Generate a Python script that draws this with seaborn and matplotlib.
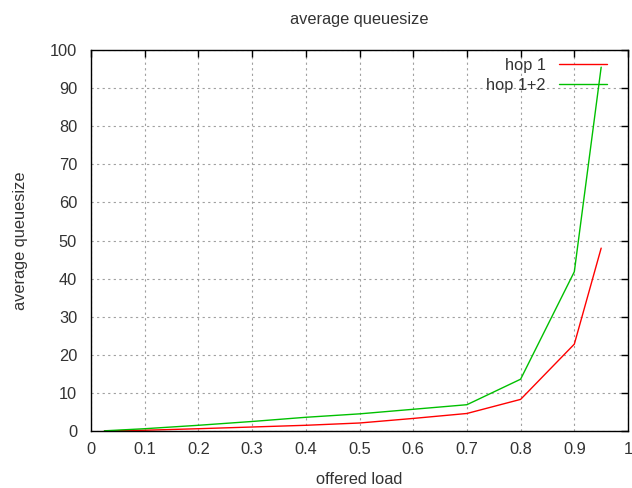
import matplotlib
matplotlib.use("Agg")
import matplotlib.pyplot as plt
import seaborn as sns
import pandas as pd
from matplotlib.lines import Line2D

load = [0.025, 0.1, 0.2, 0.3, 0.4, 0.5, 0.6, 0.7, 0.8, 0.9, 0.95]
hop1 = [0.03, 0.2, 0.6, 1.05, 1.5, 2.1, 3.3, 4.6, 8.3, 22.8, 48.0]
hop12 = [0.05, 0.6, 1.5, 2.5, 3.6, 4.5, 5.7, 6.9, 13.6, 41.8, 95.5]
series_names = ["hop 1", "hop 1+2"]
xticks = [0, 0.1, 0.2, 0.3, 0.4, 0.5, 0.6, 0.7, 0.8, 0.9, 1]
xticklabels = ["0", "0.1", "0.2", "0.3", "0.4", "0.5", "0.6", "0.7", "0.8", "0.9", "1"]
yticks = list(range(0, 101, 10))

df = pd.DataFrame({
    "load": load + load,
    "q": hop1 + hop12,
    "series": [series_names[0]] * len(load) + [series_names[1]] * len(load),
})

sns.set_style("white")
plt.rcParams["font.family"] = ["Liberation Sans", "DejaVu Sans"]
TXT = "#333333"
FS = 11.8

fig = plt.figure(figsize=(6.32, 4.88), dpi=100)
ax = fig.add_axes([0.144, 0.1168, 0.8497, 0.7807])
sns.lineplot(data=df, x="load", y="q", hue="series",
             palette={"hop 1": "#ff0000", "hop 1+2": "#00c000"},
             linewidth=1.0, ax=ax, legend=False)

ax.set_xlim(0, 1)
ax.set_ylim(0, 100)
ax.set_xticks(xticks)
ax.set_xticklabels(xticklabels)
ax.set_yticks(yticks)
ax.grid(True, linestyle=(0, (2, 3)), color="#a0a0a0", linewidth=0.8)
ax.tick_params(direction="in", length=5, top=True, right=True, labelsize=FS,
               width=1, color="black", labelcolor=TXT)
ax.tick_params(axis="x", pad=8)
ax.tick_params(axis="y", pad=10)
for s in ax.spines.values():
    s.set_color("black")
    s.set_linewidth(1)
ax.set_xlabel("offered load", fontsize=FS, labelpad=11, color=TXT)
ax.set_ylabel("average queuesize", fontsize=FS, labelpad=16, color=TXT)
ax.set_title("average queuesize", fontsize=FS, pad=19, color=TXT)

handles = [Line2D([], [], color="#ff0000", lw=1), Line2D([], [], color="#00c000", lw=1)]
leg = fig.legend(handles, series_names, loc="upper right", frameon=False,
                 markerfirst=False, fontsize=FS, handlelength=2.95,
                 handletextpad=0.8, labelspacing=0.31, borderaxespad=0,
                 borderpad=0, bbox_to_anchor=(607 / 632, 1 - 58 / 488),
                 bbox_transform=fig.transFigure)
for t in leg.get_texts():
    t.set_ha("right")
    t.set_color(TXT)

fig.savefig("out.png", dpi=100)
